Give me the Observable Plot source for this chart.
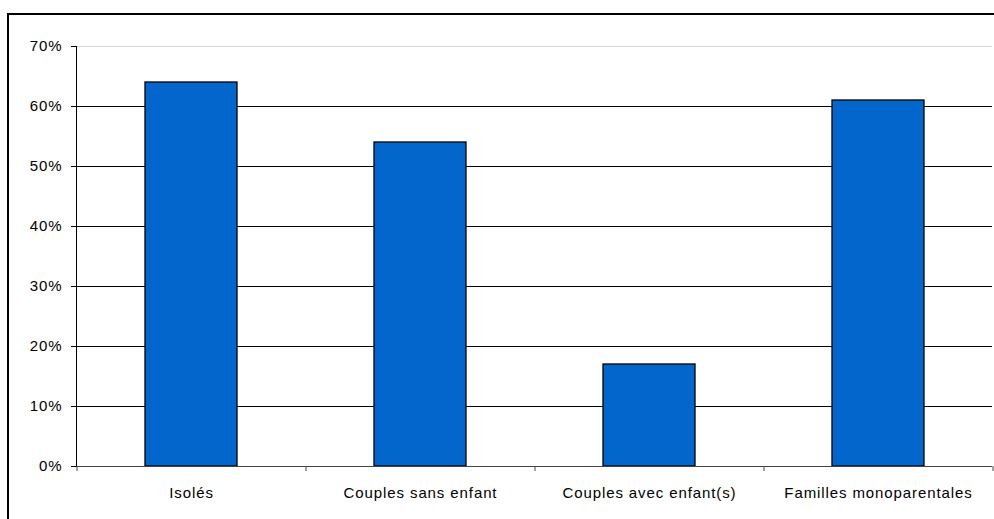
<!DOCTYPE html>
<html><head><meta charset="utf-8">
<script src="https://cdn.jsdelivr.net/npm/d3@7"></script>
<script src="https://cdn.jsdelivr.net/npm/@observablehq/plot@0.6"></script>
<style>
html,body{margin:0;padding:0;background:#fff;overflow:hidden}
#wrap{position:relative;width:994px;height:519px;overflow:hidden}
#frame{position:absolute;left:7px;top:13px;width:1000px;height:530px;border:2px solid #000;border-bottom:none}
#chart{position:absolute;left:0;top:0}
</style></head><body>
<div id="wrap"><div id="frame"></div><div id="chart"></div></div>
<script>
const categories = ["Isolés", "Couples sans enfant", "Couples avec enfant(s)", "Familles monoparentales"];
const values = [0.64, 0.54, 0.17, 0.61];
const yTicks = [0, 0.1, 0.2, 0.3, 0.4, 0.5, 0.6, 0.7];

const data = categories.map((c, i) => ({cat: c, value: values[i]}));
const W = 994, H = 519, ML = 76, MR = 2;
const step = (W - ML - MR) / categories.length;

const chart = Plot.plot({
  width: W, height: H,
  marginLeft: ML, marginRight: MR, marginTop: 46, marginBottom: 53,
  style: "font-family:'Liberation Sans',Arial,sans-serif;font-size:15px;letter-spacing:0.9px;color:#000;background:transparent;overflow:visible",
  x: {domain: categories, paddingInner: 0.6, paddingOuter: 0.3},
  y: {domain: [0, 0.7]},
  marks: [
    Plot.ruleY(yTicks.filter(t => t > 0 && t < 0.7), {stroke: "#000", strokeWidth: 1}),
    Plot.ruleY([0.7], {stroke: "#d4d4d4", strokeWidth: 1}),
    Plot.barY(data, {x: "cat", y: "value", fill: "#0366cc", stroke: "#000", strokeWidth: 1.3}),
    Plot.ruleY([0], {stroke: "#444", strokeWidth: 1}),
    Plot.frame({anchor: "left", stroke: "#000"}),
    Plot.axisY({ticks: yTicks, tickFormat: d3.format(".0%"), tickSize: 5, tickPadding: 9, label: null, stroke: "#000"}),
    Plot.axisX({tickSize: 0, tickPadding: 21, label: null}),
    Plot.axisX({tickSize: 5, tickFormat: () => "", dx: -step / 2, label: null, stroke: "#444"}),
    Plot.axisX({ticks: [categories[categories.length - 1]], tickSize: 5, tickFormat: () => "", dx: step / 2, label: null, stroke: "#444"})
  ]
});
document.getElementById("chart").appendChild(chart);
</script>
</body></html>
